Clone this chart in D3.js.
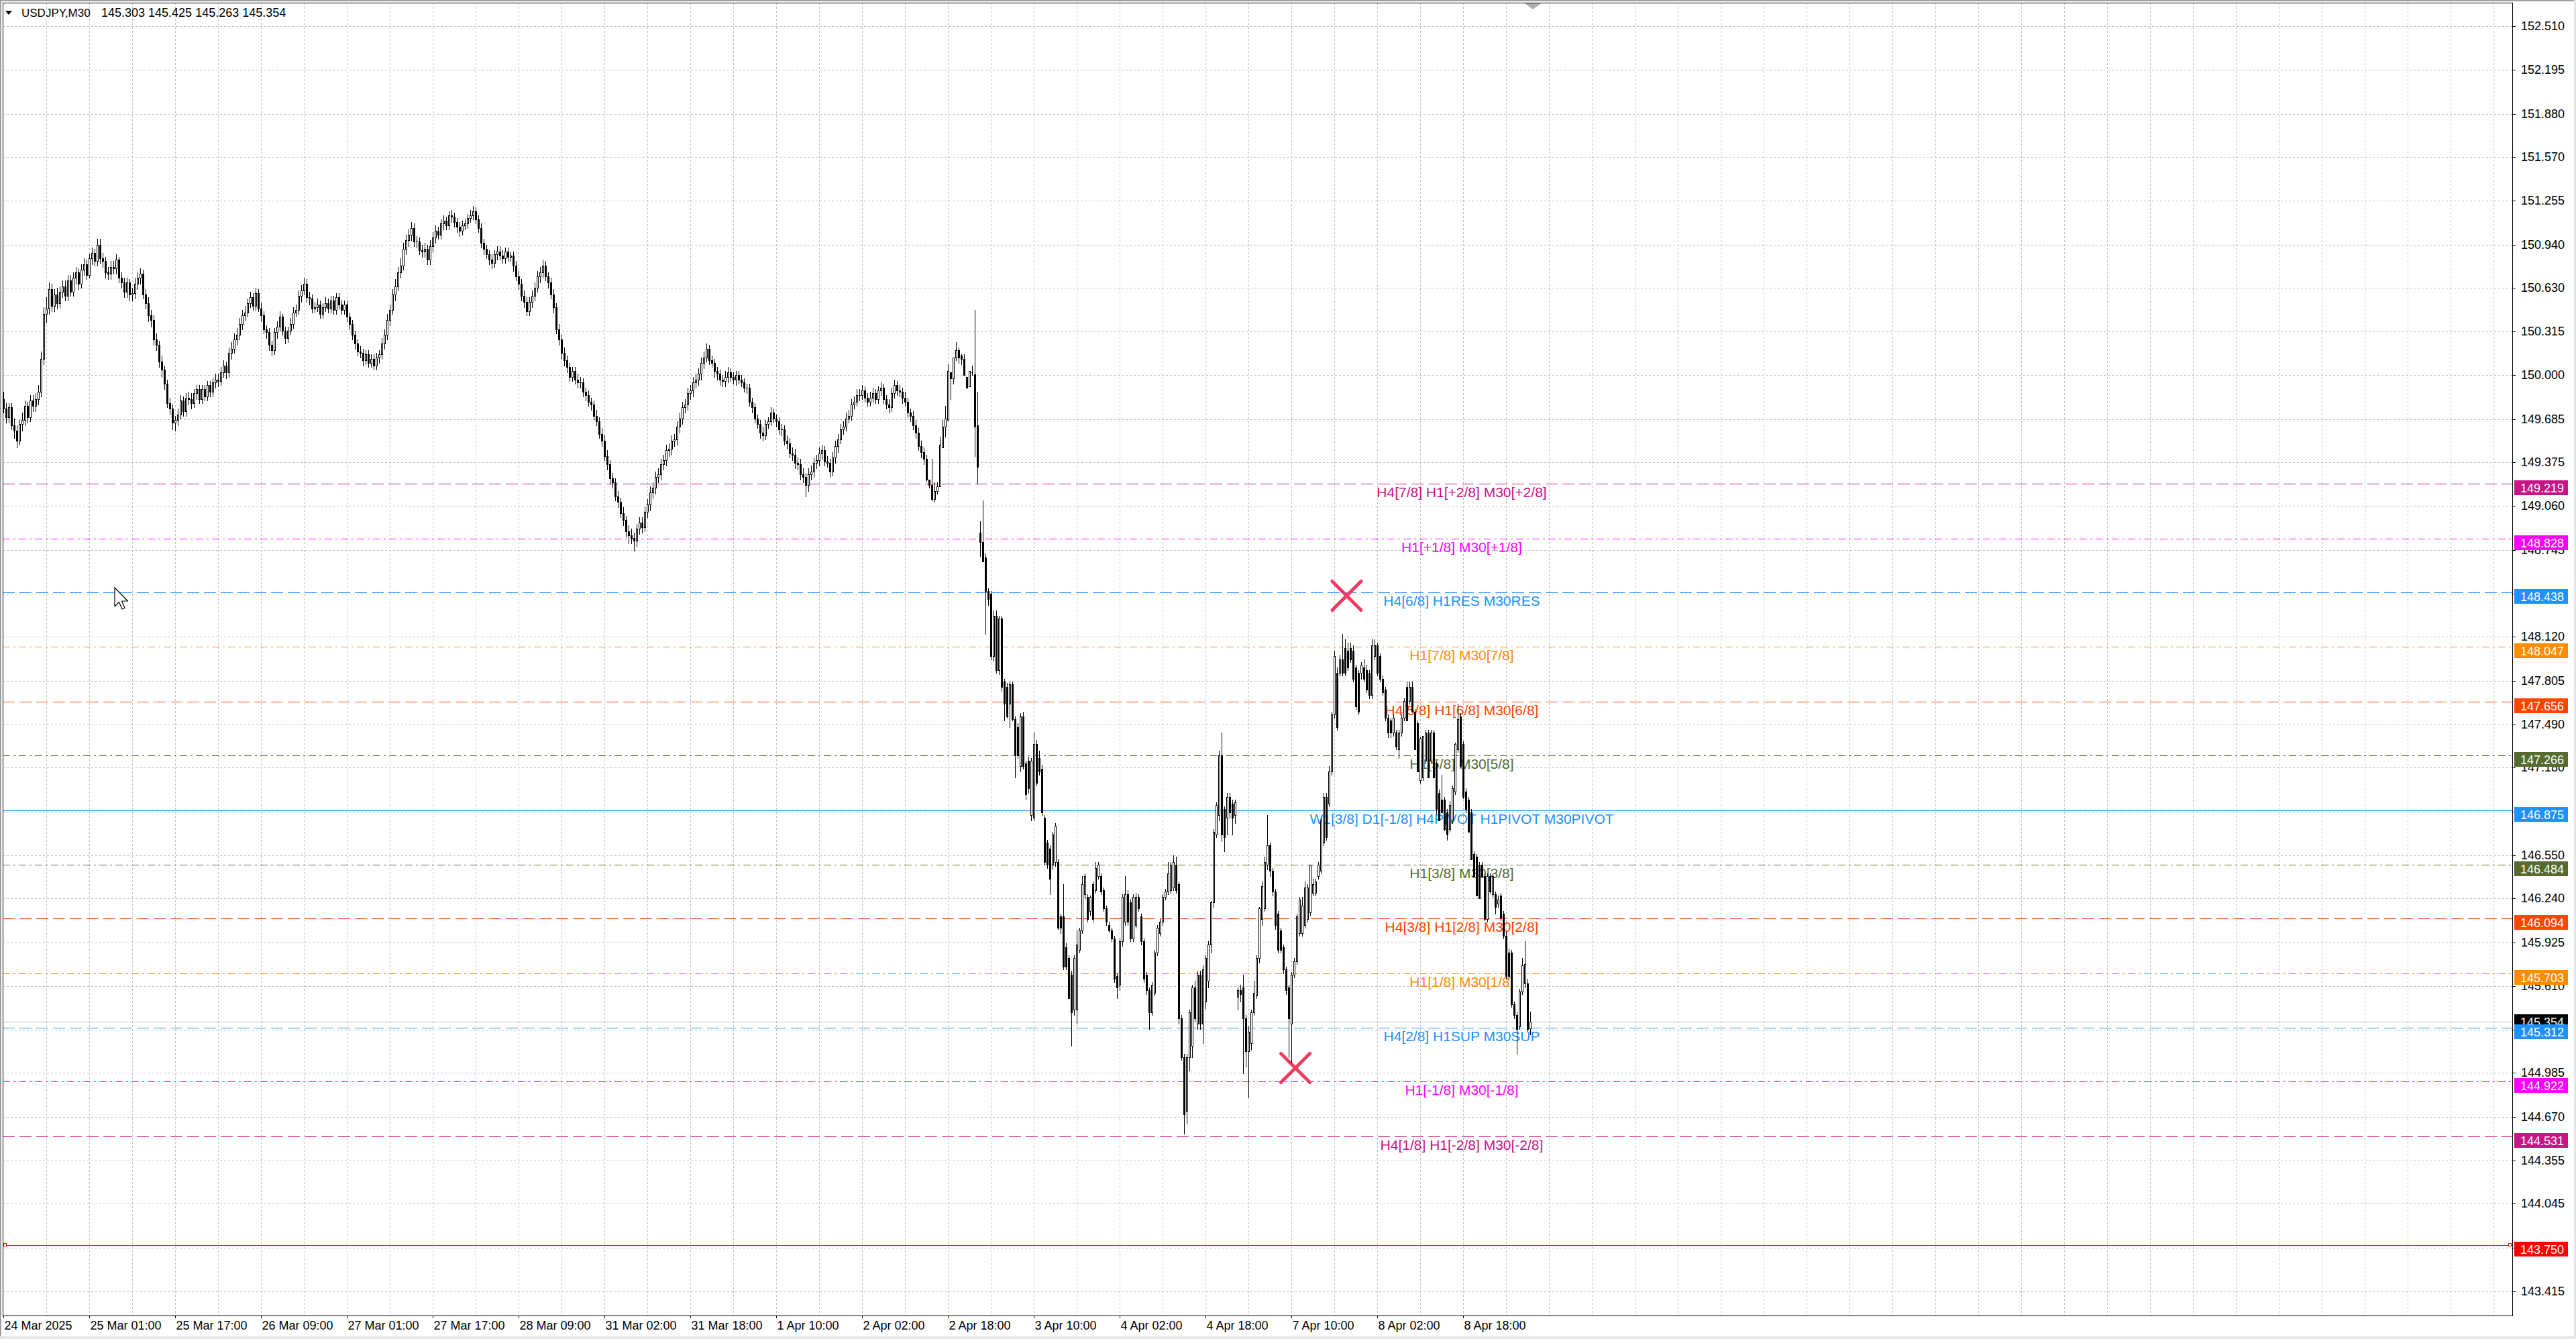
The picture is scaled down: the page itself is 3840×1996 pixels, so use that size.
<!DOCTYPE html>
<html><head><meta charset="utf-8">
<script src="https://cdn.jsdelivr.net/npm/d3@7"></script>
<style>html,body{margin:0;padding:0;background:#fff;overflow:hidden}svg{display:block}</style>
</head><body><svg id="c" width="3840" height="1996"></svg>
<script>
// ---------------- DATA ----------------
const symbolTitle = "USDJPY,M30";
const lastOHLC = [145.303, 145.425, 145.263, 145.354];
const bidPrice = 145.354;

const opens = [
149.83,149.76,149.70,149.77,149.64,149.60,149.53,149.65,149.68,149.78,
149.70,149.82,149.78,149.83,149.88,150.12,150.44,150.48,150.62,150.50,
150.58,150.52,150.60,150.64,150.57,150.68,150.60,150.70,150.74,150.66,
150.76,150.80,150.72,150.84,150.88,150.82,150.94,150.84,150.82,150.74,
150.73,150.78,150.77,150.83,150.70,150.67,150.60,150.67,150.58,150.59,
150.66,150.70,150.73,150.58,150.52,150.43,150.40,150.26,150.22,150.10,
150.04,149.94,149.80,149.76,149.66,149.68,149.72,149.82,149.74,149.84,
149.83,149.80,149.87,149.90,149.83,149.90,149.85,149.93,149.88,149.95,
149.97,149.96,150.02,150.07,150.02,150.16,150.19,150.26,150.29,150.37,
150.43,150.45,150.52,150.56,150.50,150.59,150.48,150.43,150.33,150.31,
150.22,150.18,150.31,150.35,150.42,150.32,150.27,150.32,150.37,150.45,
150.47,150.57,150.61,150.66,150.56,150.55,150.48,150.49,150.51,150.44,
150.49,150.52,150.48,150.54,150.47,150.56,150.51,150.47,150.51,150.42,
150.37,150.29,150.23,150.17,150.16,150.11,150.15,150.09,150.12,150.07,
150.13,150.15,150.23,150.29,150.40,150.47,150.58,150.64,150.74,150.79,
150.91,150.97,151.01,151.06,150.96,150.96,150.90,150.89,150.91,150.83,
150.93,150.99,151.04,151.01,151.09,151.11,151.08,151.15,151.14,151.10,
151.07,151.04,151.08,151.09,151.13,151.15,151.18,151.12,151.06,150.95,
150.91,150.87,150.83,150.81,150.87,150.89,150.86,150.84,150.89,150.85,
150.86,150.79,150.71,150.66,150.57,150.53,150.46,150.53,150.57,150.63,
150.71,150.74,150.79,150.71,150.67,150.58,150.49,150.33,150.26,150.16,
150.11,150.06,149.99,150.03,149.97,149.95,149.95,149.88,149.86,149.81,
149.79,149.71,149.67,149.58,149.53,149.42,149.36,149.26,149.23,149.13,
149.09,149.01,148.96,148.88,148.85,148.83,148.81,148.90,148.94,148.91,
149.02,149.07,149.16,149.19,149.27,149.29,149.36,149.39,149.46,149.47,
149.53,149.54,149.63,149.69,149.77,149.79,149.87,149.89,149.95,149.97,
150.01,150.09,150.13,150.19,150.11,150.09,150.03,150.01,149.97,149.96,
149.99,150.02,149.99,149.97,150.00,149.97,149.95,149.91,149.91,149.81,
149.77,149.69,149.65,149.59,149.57,149.65,149.67,149.73,149.69,149.67,
149.61,149.61,149.53,149.51,149.44,149.43,149.37,149.36,149.29,149.27,
149.21,149.29,149.31,149.37,149.39,149.44,149.46,149.38,149.37,149.31,
149.41,149.49,149.54,149.61,149.63,149.69,149.71,149.79,149.81,149.86,
149.86,149.89,149.84,149.81,149.84,149.87,149.83,149.89,149.91,149.83,
149.79,149.77,149.87,149.93,149.89,149.88,149.84,149.81,149.73,149.71,
149.64,149.59,149.49,149.45,149.40,149.25,149.21,149.11,149.17,149.20,
149.48,149.63,149.68,150.02,149.98,150.13,150.18,150.14,150.12,149.99,
149.92,150.02,150.005,149.64,148.87,148.80,148.69,148.45,148.43,147.98,
148.27,147.88,148.25,147.80,147.76,147.64,147.78,147.53,147.47,147.19,
147.55,147.21,147.23,146.84,146.82,147.35,147.25,147.17,146.82,146.64,
146.60,146.48,146.50,146.50,146.11,146.11,145.89,145.81,145.69,145.44,
145.44,145.87,146.01,146.27,146.25,146.15,146.34,146.30,146.40,146.40,
146.30,146.17,146.05,146.01,145.95,145.68,145.62,145.93,146.07,146.27,
146.21,145.95,146.05,146.25,146.11,145.93,145.69,145.58,145.42,145.56,
145.85,145.99,146.07,146.25,146.29,146.30,146.32,146.48,146.34,145.38,
145.10,144.71,145.10,145.18,145.60,145.34,145.69,145.34,145.50,145.65,
145.91,146.21,146.70,146.84,147.27,146.88,146.82,146.97,146.92,146.84,
145.53,145.58,145.60,145.38,145.14,145.20,145.42,145.54,145.81,146.09,
146.17,146.48,146.62,146.44,146.29,146.13,146.01,145.89,145.73,145.60,
145.34,145.69,145.79,145.99,145.99,146.05,146.09,146.14,146.28,146.28,
146.40,146.44,146.64,146.97,146.92,147.15,147.56,147.86,147.86,147.96,
148.04,148.02,148.04,148.02,147.90,147.86,147.86,147.90,147.88,147.86,
147.70,147.98,148.06,147.98,147.82,147.74,147.54,147.52,147.43,147.43,
147.31,147.43,147.54,147.76,147.66,147.76,147.58,147.50,147.09,147.11,
147.23,147.43,147.23,147.43,147.21,147.00,146.95,146.95,146.86,146.74,
146.80,147.01,147.31,147.55,147.35,147.01,146.95,146.86,146.56,146.54,
146.48,146.48,146.40,146.09,146.40,146.27,146.27,146.20,146.26,146.13,
145.97,145.85,145.85,145.48,145.40,145.32,145.57,145.63,145.63,145.303];

const highs = [
149.88,149.80,149.80,149.80,149.69,149.64,149.68,149.73,149.82,149.81,
149.86,149.86,149.87,149.93,150.17,150.49,150.56,150.67,150.66,150.62,
150.63,150.64,150.68,150.68,150.72,150.72,150.74,150.78,150.77,150.80,
150.84,150.83,150.87,150.92,150.91,150.98,150.98,150.88,150.85,150.78,
150.82,150.82,150.87,150.85,150.74,150.70,150.70,150.69,150.63,150.70,
150.74,150.77,150.76,150.62,150.56,150.47,150.43,150.30,150.25,150.14,
150.07,149.97,149.84,149.79,149.71,149.76,149.86,149.85,149.87,149.88,
149.87,149.90,149.93,149.93,149.93,149.93,149.96,149.96,149.98,150.01,
150.01,150.06,150.11,150.10,150.20,150.24,150.30,150.34,150.41,150.47,
150.50,150.55,150.60,150.59,150.63,150.62,150.52,150.46,150.36,150.34,
150.25,150.34,150.39,150.46,150.44,150.35,150.35,150.41,150.49,150.51,
150.61,150.65,150.70,150.69,150.60,150.58,150.53,150.55,150.54,150.52,
150.56,150.55,150.57,150.57,150.59,150.59,150.54,150.54,150.54,150.45,
150.40,150.32,150.26,150.21,150.19,150.18,150.18,150.15,150.15,150.16,
150.18,150.27,150.33,150.44,150.51,150.62,150.69,150.78,150.84,150.95,
151.01,151.05,151.10,151.09,151.00,150.99,150.94,150.95,150.94,150.97,
151.03,151.08,151.07,151.12,151.15,151.14,151.18,151.19,151.17,151.13,
151.10,151.11,151.12,151.16,151.19,151.22,151.21,151.15,151.09,150.98,
150.94,150.90,150.87,150.90,150.93,150.93,150.90,150.92,150.92,150.89,
150.89,150.82,150.75,150.69,150.61,150.56,150.56,150.61,150.67,150.75,
150.78,150.83,150.82,150.74,150.70,150.62,150.52,150.37,150.29,150.20,
150.14,150.09,150.06,150.06,150.01,149.99,149.98,149.91,149.89,149.84,
149.82,149.75,149.70,149.62,149.57,149.46,149.39,149.30,149.26,149.17,
149.12,149.05,148.99,148.92,148.90,148.87,148.93,148.98,148.98,149.05,
149.11,149.20,149.23,149.31,149.33,149.40,149.43,149.50,149.51,149.57,
149.58,149.67,149.73,149.81,149.83,149.91,149.93,149.99,150.01,150.05,
150.13,150.17,150.23,150.22,150.14,150.12,150.06,150.04,150.00,150.03,
150.06,150.05,150.02,150.03,150.03,150.00,149.98,149.94,149.94,149.84,
149.80,149.72,149.68,149.63,149.68,149.70,149.77,149.76,149.72,149.70,
149.65,149.64,149.57,149.55,149.48,149.47,149.41,149.40,149.33,149.30,
149.33,149.35,149.41,149.43,149.48,149.50,149.49,149.42,149.40,149.45,
149.53,149.58,149.65,149.67,149.73,149.75,149.83,149.85,149.90,149.90,
149.93,149.92,149.87,149.88,149.91,149.90,149.92,149.95,149.94,149.86,
149.83,149.91,149.97,149.96,149.93,149.91,149.88,149.84,149.76,149.74,
149.68,149.62,149.53,149.48,149.43,149.25,149.40,149.23,149.23,149.56,
149.68,149.78,150.08,150.02,150.13,150.24,150.20,150.15,150.15,149.99,
150.03,150.07,150.47,149.88,148.95,149.10,148.72,148.47,148.45,148.31,
148.31,148.27,148.27,147.82,147.79,147.80,147.80,147.55,147.50,147.57,
147.58,147.23,147.26,147.25,147.43,147.38,147.30,147.20,146.84,146.66,
146.62,146.72,146.78,146.52,146.13,146.34,145.92,145.83,145.72,145.83,
146.01,146.03,146.40,146.42,146.27,146.26,146.36,146.50,146.50,146.42,
146.32,146.19,146.07,146.03,145.97,145.70,145.95,146.27,146.40,146.30,
146.23,146.27,146.28,146.27,146.13,145.95,145.71,145.60,145.64,145.87,
146.05,146.09,146.27,146.31,146.50,146.50,146.55,146.54,146.36,145.40,
145.12,145.12,145.44,145.62,145.65,145.72,145.72,145.76,145.83,145.93,
146.22,146.74,146.93,147.30,147.43,146.90,147.00,147.00,146.95,146.95,
145.60,145.62,145.69,145.40,145.32,145.44,145.65,145.83,146.18,146.36,
146.54,146.84,146.64,146.46,146.31,146.15,146.03,145.91,145.75,145.62,
145.71,145.81,146.13,146.25,146.25,146.36,146.34,146.48,146.38,146.38,
146.50,146.82,147.00,147.00,147.19,147.58,148.02,147.90,147.99,148.14,
148.10,148.08,148.08,148.06,147.92,147.88,147.94,147.96,147.92,147.88,
148.10,148.10,148.08,148.00,147.84,147.76,147.56,147.54,147.56,147.45,
147.45,147.56,147.68,147.80,147.80,147.80,147.60,147.52,147.40,147.41,
147.45,147.45,147.45,147.45,147.23,147.02,147.13,146.97,146.88,146.94,
147.05,147.36,147.64,147.57,147.37,147.03,146.97,146.88,146.58,146.56,
146.50,146.50,146.42,146.42,146.42,146.42,146.29,146.26,146.28,146.15,
146.00,145.88,145.87,145.50,145.42,145.59,145.81,145.93,145.66,145.425];

const lows = [
149.73,149.66,149.66,149.61,149.55,149.48,149.50,149.60,149.64,149.66,
149.67,149.74,149.74,149.79,149.85,150.08,150.38,150.44,150.46,150.46,
150.48,150.49,150.56,150.54,150.54,150.57,150.57,150.66,150.62,150.63,
150.72,150.69,150.70,150.80,150.79,150.79,150.81,150.78,150.70,150.69,
150.69,150.73,150.73,150.67,150.63,150.56,150.56,150.54,150.54,150.55,
150.62,150.66,150.55,150.48,150.39,150.35,150.22,150.18,150.06,149.99,
149.90,149.77,149.72,149.61,149.60,149.64,149.69,149.71,149.71,149.79,
149.76,149.77,149.83,149.80,149.80,149.82,149.82,149.85,149.85,149.91,
149.92,149.93,149.99,149.98,149.99,150.12,150.16,150.22,150.26,150.33,
150.40,150.42,150.49,150.47,150.47,150.46,150.39,150.30,150.27,150.18,
150.14,150.15,150.27,150.32,150.29,150.23,150.24,150.29,150.34,150.42,
150.44,150.53,150.58,150.53,150.51,150.45,150.45,150.46,150.41,150.41,
150.46,150.45,150.45,150.44,150.44,150.48,150.44,150.44,150.39,150.33,
150.26,150.19,150.14,150.13,150.07,150.08,150.06,150.06,150.04,150.04,
150.09,150.12,150.19,150.26,150.36,150.44,150.54,150.61,150.70,150.76,
150.87,150.93,150.97,150.93,150.92,150.87,150.85,150.85,150.80,150.80,
150.89,150.95,150.98,150.98,151.05,151.05,151.05,151.10,151.07,151.03,
151.00,151.01,151.05,151.06,151.10,151.12,151.09,151.03,150.92,150.87,
150.84,150.80,150.77,150.78,150.83,150.83,150.81,150.81,150.82,150.82,
150.75,150.68,150.62,150.54,150.49,150.43,150.43,150.49,150.54,150.60,
150.67,150.70,150.68,150.63,150.55,150.45,150.30,150.22,150.12,150.07,
150.02,149.96,149.96,149.94,149.91,149.91,149.85,149.82,149.78,149.75,
149.68,149.64,149.55,149.49,149.39,149.32,149.22,149.19,149.10,149.05,
148.98,148.92,148.84,148.79,148.79,148.74,148.77,148.86,148.87,148.88,
148.98,149.03,149.12,149.15,149.23,149.25,149.32,149.35,149.42,149.43,
149.49,149.50,149.59,149.65,149.73,149.75,149.83,149.85,149.91,149.93,
149.97,150.05,150.10,150.08,150.06,149.99,149.97,149.93,149.92,149.92,
149.95,149.96,149.94,149.93,149.94,149.92,149.88,149.87,149.78,149.73,
149.66,149.62,149.55,149.53,149.54,149.62,149.64,149.66,149.63,149.58,
149.57,149.50,149.47,149.41,149.39,149.33,149.32,149.25,149.23,149.13,
149.17,149.25,149.27,149.33,149.35,149.40,149.35,149.34,149.27,149.28,
149.37,149.45,149.51,149.58,149.60,149.66,149.68,149.76,149.78,149.82,
149.83,149.81,149.78,149.78,149.81,149.80,149.80,149.86,149.80,149.76,
149.73,149.74,149.84,149.86,149.85,149.80,149.78,149.70,149.67,149.61,
149.55,149.46,149.41,149.36,149.24,149.19,149.10,149.09,149.15,149.20,
149.48,149.56,149.68,149.83,149.94,150.11,150.09,150.08,150.00,149.91,
149.92,150.00,149.42,149.22,148.70,148.66,148.14,148.35,147.96,147.95,
147.86,147.85,147.73,147.52,147.54,147.47,147.52,147.11,147.25,147.15,
147.17,146.95,147.00,146.80,146.80,147.05,147.13,146.84,146.48,146.46,
146.27,146.45,146.47,146.02,145.99,145.73,145.73,145.52,145.18,145.40,
145.34,145.85,145.99,146.24,146.07,146.12,146.07,146.28,146.38,146.27,
146.15,146.05,146.00,145.93,145.64,145.52,145.58,145.90,146.05,146.05,
145.93,145.93,146.03,146.15,145.91,145.64,145.55,145.30,145.40,145.54,
145.83,145.97,146.05,146.23,146.27,146.28,146.30,146.28,145.34,145.08,
144.55,144.62,145.00,145.10,145.36,145.30,145.30,145.20,145.45,145.60,
145.85,146.18,146.68,146.80,146.65,146.58,146.70,146.82,146.70,146.78,
145.44,145.50,144.98,145.03,144.81,145.15,145.40,145.52,145.78,146.05,
146.15,146.45,146.40,146.26,146.02,145.85,145.85,145.70,145.55,145.10,
145.06,145.67,145.77,145.97,145.97,146.03,146.07,146.12,146.26,146.26,
146.38,146.42,146.62,146.66,146.90,147.13,147.54,147.45,147.84,147.84,
147.84,147.88,147.94,147.80,147.60,147.56,147.82,147.80,147.72,147.68,
147.68,147.96,147.84,147.80,147.70,147.52,147.40,147.40,147.41,147.31,
147.25,147.41,147.52,147.52,147.64,147.58,147.31,147.15,147.07,147.09,
147.21,147.11,147.21,147.11,146.85,146.80,146.86,146.73,146.66,146.72,
146.78,146.99,147.29,147.18,146.96,146.86,146.72,146.52,146.40,146.26,
146.24,146.40,146.08,146.07,146.28,146.25,146.13,146.18,146.08,145.95,
145.66,145.66,145.46,145.38,145.12,145.30,145.55,145.60,145.28,145.263];

const closes = [
149.76,149.70,149.77,149.64,149.60,149.53,149.65,149.68,149.78,149.70,
149.82,149.78,149.83,149.88,150.12,150.44,150.48,150.62,150.50,150.58,
150.52,150.60,150.64,150.57,150.68,150.60,150.70,150.74,150.66,150.76,
150.80,150.72,150.84,150.88,150.82,150.94,150.84,150.82,150.74,150.73,
150.78,150.77,150.83,150.70,150.67,150.60,150.67,150.58,150.59,150.66,
150.70,150.73,150.58,150.52,150.43,150.40,150.26,150.22,150.10,150.04,
149.94,149.80,149.76,149.66,149.68,149.72,149.82,149.74,149.84,149.83,
149.80,149.87,149.90,149.83,149.90,149.85,149.93,149.88,149.95,149.97,
149.96,150.02,150.07,150.02,150.16,150.19,150.26,150.29,150.37,150.43,
150.45,150.52,150.56,150.50,150.59,150.48,150.43,150.33,150.31,150.22,
150.18,150.31,150.35,150.42,150.32,150.27,150.32,150.37,150.45,150.47,
150.57,150.61,150.66,150.56,150.55,150.48,150.49,150.51,150.44,150.49,
150.52,150.48,150.54,150.47,150.56,150.51,150.47,150.51,150.42,150.37,
150.29,150.23,150.17,150.16,150.11,150.15,150.09,150.12,150.07,150.13,
150.15,150.23,150.29,150.40,150.47,150.58,150.64,150.74,150.79,150.91,
150.97,151.01,151.06,150.96,150.96,150.90,150.89,150.91,150.83,150.93,
150.99,151.04,151.01,151.09,151.11,151.08,151.15,151.14,151.10,151.07,
151.04,151.08,151.09,151.13,151.15,151.18,151.12,151.06,150.95,150.91,
150.87,150.83,150.81,150.87,150.89,150.86,150.84,150.89,150.85,150.86,
150.79,150.71,150.66,150.57,150.53,150.46,150.53,150.57,150.63,150.71,
150.74,150.79,150.71,150.67,150.58,150.49,150.33,150.26,150.16,150.11,
150.06,149.99,150.03,149.97,149.95,149.95,149.88,149.86,149.81,149.79,
149.71,149.67,149.58,149.53,149.42,149.36,149.26,149.23,149.13,149.09,
149.01,148.96,148.88,148.85,148.83,148.81,148.90,148.94,148.91,149.02,
149.07,149.16,149.19,149.27,149.29,149.36,149.39,149.46,149.47,149.53,
149.54,149.63,149.69,149.77,149.79,149.87,149.89,149.95,149.97,150.01,
150.09,150.13,150.19,150.11,150.09,150.03,150.01,149.97,149.96,149.99,
150.02,149.99,149.97,150.00,149.97,149.95,149.91,149.91,149.81,149.77,
149.69,149.65,149.59,149.57,149.65,149.67,149.73,149.69,149.67,149.61,
149.61,149.53,149.51,149.44,149.43,149.37,149.36,149.29,149.27,149.21,
149.29,149.31,149.37,149.39,149.44,149.46,149.38,149.37,149.31,149.41,
149.49,149.54,149.61,149.63,149.69,149.71,149.79,149.81,149.86,149.86,
149.89,149.84,149.81,149.84,149.87,149.83,149.89,149.91,149.83,149.79,
149.77,149.87,149.93,149.89,149.88,149.84,149.81,149.73,149.71,149.64,
149.59,149.49,149.45,149.40,149.25,149.21,149.11,149.17,149.20,149.50,
149.63,149.69,150.03,149.98,150.13,150.18,150.13,150.12,150.00,149.91,
150.03,150.02,149.63,149.34,148.80,148.66,148.45,148.39,147.98,148.27,
147.88,148.25,147.76,147.64,147.55,147.78,147.53,147.27,147.27,147.55,
147.19,146.99,147.03,147.23,147.35,147.07,147.15,146.86,146.50,146.48,
146.38,146.70,146.76,146.03,146.03,145.75,145.75,145.52,145.42,145.81,
145.91,146.01,146.34,146.40,146.09,146.25,146.09,146.46,146.48,146.29,
146.17,146.07,146.01,145.95,145.66,145.60,145.93,146.25,146.27,146.07,
145.95,146.25,146.25,146.17,145.93,145.66,145.58,145.42,145.62,145.85,
146.03,146.07,146.25,146.29,146.42,146.48,146.50,146.30,145.38,145.10,
144.69,145.10,145.42,145.60,145.38,145.69,145.34,145.73,145.81,145.91,
146.21,146.72,146.91,147.27,146.70,146.68,146.97,146.86,146.82,146.93,
145.58,145.55,145.38,145.14,145.28,145.42,145.56,145.81,146.17,146.33,
146.50,146.62,146.44,146.29,146.05,145.87,145.87,145.73,145.58,145.38,
145.69,145.79,146.11,146.23,146.19,146.32,146.32,146.48,146.34,146.36,
146.48,146.80,146.97,146.68,147.15,147.56,147.98,147.47,147.96,147.86,
147.86,147.90,147.96,147.82,147.62,147.58,147.92,147.82,147.74,147.70,
148.06,148.06,147.86,147.82,147.72,147.54,147.43,147.43,147.54,147.33,
147.43,147.54,147.66,147.52,147.76,147.58,147.31,147.15,147.39,147.41,
147.43,147.11,147.43,147.11,146.88,146.80,146.86,146.74,146.70,146.91,
147.03,147.35,147.53,147.19,146.97,146.88,146.72,146.52,146.40,146.26,
146.24,146.40,146.09,146.40,146.29,146.40,146.18,146.23,146.10,145.97,
145.68,145.68,145.48,145.40,145.30,145.57,145.76,145.77,145.30,145.354];

const priceTicks = [152.510,152.195,151.880,151.570,151.255,150.940,150.630,150.315,150.000,149.685,
  149.375,149.060,148.745,148.430,148.120,147.805,147.490,147.180,146.865,146.550,146.240,145.925,
  145.610,145.295,144.985,144.670,144.355,144.045,143.730,143.415];

const timeLabels = ["24 Mar 2025","25 Mar 01:00","25 Mar 17:00","26 Mar 09:00","27 Mar 01:00","27 Mar 17:00",
  "28 Mar 09:00","31 Mar 02:00","31 Mar 18:00","1 Apr 10:00","2 Apr 02:00","2 Apr 18:00","3 Apr 10:00",
  "4 Apr 02:00","4 Apr 18:00","7 Apr 10:00","8 Apr 02:00","8 Apr 18:00"];
const timeLabelBars = [0,32,64,96,128,160,192,224,256,288,320,352,384,416,448,480,512,544];

const levelPrices = [149.219,148.828,148.438,148.047,147.656,147.266,146.875,146.484,146.094,145.703,145.312,144.922,144.531,143.750];
const levelTexts = ["H4[7/8] H1[+2/8] M30[+2/8]","H1[+1/8] M30[+1/8]","H4[6/8] H1RES M30RES","H1[7/8] M30[7/8]",
  "H4[5/8] H1[6/8] M30[6/8]","H1[5/8] M30[5/8]","W1[3/8] D1[-1/8] H4PIVOT H1PIVOT M30PIVOT","H1[3/8] M30[3/8]",
  "H4[3/8] H1[2/8] M30[2/8]","H1[1/8] M30[1/8]","H4[2/8] H1SUP M30SUP","H1[-1/8] M30[-1/8]","H4[1/8] H1[-2/8] M30[-2/8]",""];

const markerBars = [500.6, 481.5];
const markerPrices = [148.418, 145.023];

// ---------------- STYLES ----------------
const levelColors = ["#C71585","#FF00FF","#1E90FF","#FF8C00","#FF4500","#556B2F","#1E90FF","#556B2F","#FF4500","#FF8C00","#1E90FF","#FF00FF","#C71585","#FF0000"];
const levelDash = ["dash","dashdot","dash","dashdot","dash","dashdot","solid","dashdot","dash","dashdot","dash","dashdot","dash","solid"];
const dashPatterns = {dash:"18,7", dashdot:"11,5,3,5", solid:null};
const FONT = "'Liberation Sans', Arial, Helvetica, sans-serif";

// ---------------- LAYOUT ----------------
const W = 3840, H = 1996;
const L = 4, T = 4, R = 3745, B = 1961;
const svg = d3.select('#c');
const x = d3.scaleLinear().domain([0, 935]).rangeRound([5, 3745]);
const y = d3.scaleLinear().domain([143.415, 152.510]).rangeRound([1925, 39]);
const N = Math.min(opens.length, highs.length, lows.length, closes.length);

svg.append('rect').attr('width', W).attr('height', H).attr('fill', '#fff');
// window frame
svg.append('rect').attr('x',0).attr('y',0).attr('width',W).attr('height',2).attr('fill','#A0A0A0');
svg.append('rect').attr('x',0).attr('y',0).attr('width',2).attr('height',H).attr('fill','#A0A0A0');
svg.append('rect').attr('x',0).attr('y',H-4).attr('width',W).attr('height',4).attr('fill','#E6E6E6');
svg.append('rect').attr('x',W-3).attr('y',0).attr('width',3).attr('height',H).attr('fill','#E6E6E6');

const defs = svg.append('defs');
defs.append('clipPath').attr('id','pc').append('rect')
  .attr('x', L+1).attr('y', T+1).attr('width', R-L-1).attr('height', B-T-1);
const plot = svg.append('g').attr('clip-path','url(#pc)');

// grid
const gridG = plot.append('g').attr('stroke','#C0C0C0').attr('stroke-width',1)
  .attr('stroke-dasharray','3,3').attr('shape-rendering','crispEdges');
gridG.selectAll('line.h').data(priceTicks).join('line').attr('class','h')
  .attr('x1', L).attr('x2', R).attr('y1', d => y(d)+0.5).attr('y2', d => y(d)+0.5);
gridG.selectAll('line.v').data(d3.range(16, 936, 16)).join('line').attr('class','v')
  .attr('y1', T).attr('y2', B).attr('x1', d => x(d)+0.5).attr('x2', d => x(d)+0.5);

// level lines
const lvl = levelPrices.map((p,i)=>({p, text:levelTexts[i], color:levelColors[i], dash:dashPatterns[levelDash[i]]}));
plot.append('g').attr('shape-rendering','crispEdges').selectAll('line').data(lvl).join('line')
  .attr('x1', L).attr('x2', R).attr('y1', d=>y(d.p)+0.5).attr('y2', d=>y(d.p)+0.5)
  .attr('stroke', d=>d.color).attr('stroke-width',1)
  .attr('stroke-dasharray', d=>d.dash);
// red line end squares
const redLvl = lvl[lvl.length-1];
[L+1, R-6].forEach(sx=>{
  plot.append('rect').attr('x', sx+0.5).attr('y', y(redLvl.p)-2.5).attr('width',4).attr('height',4)
    .attr('fill','#fff').attr('stroke', redLvl.color).attr('stroke-width',1).attr('shape-rendering','crispEdges');
});
// level labels
const labelX = x(543.5);
plot.append('g').selectAll('text').data(lvl.filter(d=>d.text)).join('text')
  .attr('x', labelX).attr('y', d=>y(d.p)+20).attr('text-anchor','middle')
  .attr('font-family', FONT).attr('font-size', 21).attr('fill', d=>d.color).text(d=>d.text);

// bid line
plot.append('line').attr('x1',L).attr('x2',R).attr('y1',y(bidPrice)+0.5).attr('y2',y(bidPrice)+0.5)
  .attr('stroke','#C0C0C0').attr('stroke-width',1).attr('shape-rendering','crispEdges');

// cross markers
const mk = plot.append('g').attr('stroke','#EE3A63').attr('stroke-width',5).attr('stroke-linecap','round');
markerBars.forEach((b,i)=>{
  const cx = 5 + (x(1000)-x(0))/1000*b, cy = y(markerPrices[i]);
  const s = 21.5;
  mk.append('line').attr('x1',cx-s).attr('y1',cy-s).attr('x2',cx+s).attr('y2',cy+s);
  mk.append('line').attr('x1',cx-s).attr('y1',cy+s).attr('x2',cx+s).attr('y2',cy-s);
});

// candles
const bars = d3.range(N).map(i=>({i, o:opens[i], h:highs[i], l:lows[i], c:closes[i]}));
const cg = plot.append('g').attr('shape-rendering','crispEdges');
cg.selectAll('line.w').data(bars).join('line').attr('class','w')
  .attr('x1', d=>x(d.i)+0.5).attr('x2', d=>x(d.i)+0.5)
  .attr('y1', d=>y(d.h)).attr('y2', d=>y(d.l)+1)
  .attr('stroke','#000').attr('stroke-width',1);
cg.selectAll('rect.b').data(bars.filter(d=>y(d.o)!==y(d.c))).join('rect').attr('class','b')
  .attr('x', d=>x(d.i)-0.5).attr('width', 2)
  .attr('y', d=>Math.min(y(d.o),y(d.c))+0.5).attr('height', d=>Math.abs(y(d.o)-y(d.c)))
  .attr('fill', d=>d.c>d.o ? '#fff' : '#000').attr('stroke','#000').attr('stroke-width',1);
cg.selectAll('line.d').data(bars.filter(d=>y(d.o)===y(d.c))).join('line').attr('class','d')
  .attr('x1', d=>x(d.i)-1).attr('x2', d=>x(d.i)+2)
  .attr('y1', d=>y(d.c)+0.5).attr('y2', d=>y(d.c)+0.5)
  .attr('stroke','#000').attr('stroke-width',1);

// chart shift marker (centred on the bar after the last one)
const shiftX = x(N);
svg.append('path').attr('d', `M${shiftX-12},5 L${shiftX+12},5 L${shiftX},14 Z`).attr('fill','#ABABAB');

// border
svg.append('rect').attr('x',L+0.5).attr('y',T+0.5).attr('width',R-L).attr('height',B-T)
  .attr('fill','none').attr('stroke','#000').attr('stroke-width',1).attr('shape-rendering','crispEdges');

// price axis
const yAxis = d3.axisRight(y).tickValues(priceTicks).tickFormat(d3.format('.3f')).tickSize(4).tickSizeOuter(0).tickPadding(8);
const ya = svg.append('g').attr('transform',`translate(${R+1},0)`).call(yAxis);
ya.select('.domain').remove();
ya.selectAll('.tick line').attr('stroke','#000').attr('shape-rendering','crispEdges');
ya.selectAll('.tick text').attr('font-family',FONT).attr('font-size',18).attr('fill','#000');

// time axis
const xAxis = d3.axisBottom(x).tickValues(timeLabelBars).tickFormat((d,i)=>timeLabels[i]).tickSize(4).tickSizeOuter(0).tickPadding(4);
const xa = svg.append('g').attr('transform',`translate(0,${B})`).call(xAxis);
xa.select('.domain').remove();
xa.selectAll('.tick line').attr('stroke','#000').attr('shape-rendering','crispEdges');
xa.selectAll('.tick text').attr('font-family',FONT).attr('font-size',18).attr('fill','#000')
  .attr('text-anchor','start').attr('x',1);

// bid price box (black)
const ax = svg.append('g');
ax.append('rect').attr('x',R+3).attr('y',y(bidPrice)-11).attr('width',80).attr('height',22).attr('fill','#000');
ax.append('text').attr('x',R+12).attr('y',y(bidPrice)+6.5).attr('font-family',FONT).attr('font-size',18)
  .attr('fill','#fff').text(d3.format('.3f')(bidPrice));
// level price boxes
const boxes = ax.selectAll('g.lb').data(lvl).join('g').attr('class','lb');
boxes.append('rect').attr('x',R+3).attr('y',d=>y(d.p)-5).attr('width',80).attr('height',22).attr('fill',d=>d.color);
boxes.append('text').attr('x',R+12).attr('y',d=>y(d.p)+12.5).attr('font-family',FONT).attr('font-size',18)
  .attr('fill','#fff').text(d=>d3.format('.3f')(d.p));

// header
svg.append('path').attr('d','M8,16 L18,16 L13,22 Z').attr('fill','#000');
svg.append('text').attr('x',32).attr('y',25).attr('font-family',FONT).attr('font-size',17).attr('fill','#000').text(symbolTitle);
svg.append('text').attr('x',151).attr('y',25).attr('font-family',FONT).attr('font-size',18).attr('fill','#000')
  .text(lastOHLC.map(d3.format('.3f')).join(' '));

// mouse cursor
svg.append('path').attr('d','M171,876 L171,904 L177.5,897.5 L182,908 L186,906.2 L181.6,896 L190.5,896 Z')
  .attr('fill','#fff').attr('stroke','#000').attr('stroke-width',1.2).attr('stroke-linejoin','round');
</script></body></html>
